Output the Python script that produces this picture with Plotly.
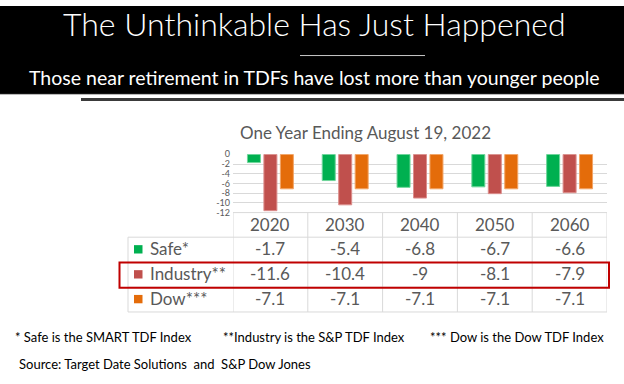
import plotly.graph_objects as go

W, H = 624, 384

# ---- data ----
categories = ["2020", "2030", "2040", "2050", "2060"]
series_names = ["Safe*", "Industry**", "Dow***"]
safe = [-1.7, -5.4, -6.8, -6.7, -6.6]
industry = [-11.6, -10.4, -9, -8.1, -7.9]
dow = [-7.1, -7.1, -7.1, -7.1, -7.1]
y_ticks = [0, -2, -4, -6, -8, -10, -12]

main_title = "The Unthinkable Has Just Happened"
subtitle = "Those near retirement in TDFs have lost more than younger people"
chart_title = "One Year Ending August 19, 2022"
footnotes = ["* Safe is the SMART TDF Index",
             "**Industry is the S&P TDF Index",
             "*** Dow is the Dow TDF Index"]
source = "Source: Target Date Solutions  and  S&P Dow Jones"

# ---- style ----
colors = ["#00B050", "#C0504D", "#E46C0A"]
edge_colors = ["#6FD69B", "#DC8E8C", "#F2A466"]
FONT = "Lato"
TXT = "#595959"
GRID = "#D9D9D9"


def px(x):
    return x / W


def py(y):
    return 1 - y / H


series = [safe, industry, dow]

fig = go.Figure()
for name, vals, c, ec in zip(series_names, series, colors, edge_colors):
    fig.add_trace(go.Bar(x=categories, y=vals, name=name,
                         marker=dict(color=c, line=dict(color=ec, width=1)),
                         hoverinfo="skip"))

plot_left, plot_right = 233, 607
plot_top, plot_bottom = 152.7, 212.7
rows = [212.7, 238, 264, 289.5, 315]
legend_left = 128

shapes = []
annotations = []

# banner
shapes.append(dict(type="rect", xref="paper", yref="paper", x0=0, x1=1,
                   y0=py(90.5), y1=1, fillcolor="black", line=dict(width=0), layer="below"))
shapes.append(dict(type="line", xref="paper", yref="paper", x0=0, x1=1,
                   y0=py(91), y1=py(91), line=dict(color="#B0B0B0", width=1)))
shapes.append(dict(type="line", xref="paper", yref="paper", x0=px(300), x1=px(425),
                   y0=py(51), y1=py(51), line=dict(color="#C8C8C8", width=1)))
shapes.append(dict(type="line", xref="paper", yref="paper", x0=px(81), x1=1,
                   y0=py(96.2), y1=py(96.2), line=dict(color="#3A3A3A", width=3)))

annotations.append(dict(text=main_title, xref="paper", yref="paper", x=px(314.5), y=py(18),
                        xanchor="center", yanchor="middle", showarrow=False,
                        font=dict(family=FONT, size=32, color="white", weight=300)))
annotations.append(dict(text=subtitle, xref="paper", yref="paper", x=px(314), y=py(74),
                        xanchor="center", yanchor="middle", showarrow=False,
                        font=dict(family=FONT, size=19.5, color="white")))
annotations.append(dict(text=chart_title, xref="paper", yref="paper", x=px(365), y=py(130.5),
                        xanchor="center", yanchor="middle", showarrow=False,
                        font=dict(family=FONT, size=17, color=TXT)))

# table grid
for yl in rows[1:]:
    shapes.append(dict(type="line", xref="paper", yref="paper", x0=px(legend_left), x1=px(plot_right),
                       y0=py(yl), y1=py(yl), line=dict(color=GRID, width=1)))
shapes.append(dict(type="line", xref="paper", yref="paper", x0=px(plot_left), x1=px(plot_right),
                   y0=py(rows[0]), y1=py(rows[0]), line=dict(color=GRID, width=1)))
for i in range(len(categories) + 1):
    shapes.append(dict(type="line", xref="x", yref="paper", x0=i - 0.5, x1=i - 0.5,
                       y0=py(rows[0]), y1=py(rows[-1]), line=dict(color=GRID, width=1)))
shapes.append(dict(type="line", xref="paper", yref="paper", x0=px(legend_left), x1=px(legend_left),
                   y0=py(rows[1]), y1=py(rows[-1]), line=dict(color=GRID, width=1)))

# header
hy = (rows[0] + rows[1]) / 2
for i, cat in enumerate(categories):
    annotations.append(dict(text=cat, xref="x", yref="paper", x=i, y=py(hy - 0.5),
                            xanchor="center", yanchor="middle", showarrow=False,
                            font=dict(family=FONT, size=17, color=TXT)))

for r, (name, vals, c) in enumerate(zip(series_names, series, colors)):
    cy = (rows[r + 1] + rows[r + 2]) / 2 - 1
    shapes.append(dict(type="rect", xref="paper", yref="paper", x0=px(134), x1=px(142.5),
                       y0=py(cy + 4.8), y1=py(cy - 3.8), fillcolor=c, line=dict(width=0)))
    annotations.append(dict(text=name, xref="paper", yref="paper", x=px(148), y=py(cy),
                            xanchor="left", yanchor="middle", showarrow=False,
                            font=dict(family=FONT, size=17, color=TXT)))
    for i, v in enumerate(vals):
        annotations.append(dict(text=f"{v:g}", xref="x", yref="paper", x=i, y=py(cy),
                                xanchor="center", yanchor="middle", showarrow=False,
                                font=dict(family=FONT, size=17, color=TXT)))

# red highlight box
shapes.append(dict(type="rect", xref="paper", yref="paper", x0=px(119.5), x1=px(609),
                   y0=py(290), y1=py(264), line=dict(color="#C00000", width=2)))

# footnotes
for xs, t in zip([13, 221, 428], footnotes):
    annotations.append(dict(text=t, xref="paper", yref="paper", x=px(xs), y=py(341),
                            xanchor="left", yanchor="middle", showarrow=False,
                            font=dict(family=FONT, size=13, color="black")))
annotations.append(dict(text=source, xref="paper", yref="paper", x=px(17), y=py(368.5),
                        xanchor="left", yanchor="middle", showarrow=False,
                        font=dict(family=FONT, size=13, color="black")))

fig.update_layout(
    width=W, height=H, margin=dict(l=0, r=0, t=0, b=0),
    paper_bgcolor="white", plot_bgcolor="white",
    barmode="group", bargap=0.34, bargroupgap=0.21,
    showlegend=False,
    shapes=shapes, annotations=annotations,
    xaxis=dict(domain=[px(plot_left), px(plot_right)], range=[-0.5, 4.5],
               showticklabels=False, showgrid=False, zeroline=False, fixedrange=True),
    yaxis=dict(domain=[py(plot_bottom), py(plot_top)], range=[-12, 0],
               tickvals=y_ticks, ticktext=[str(t) for t in y_ticks],
               gridcolor=GRID, gridwidth=1, zeroline=False, showline=False,
               tickfont=dict(family=FONT, size=9, color=TXT), ticks="",
               ticklabelstandoff=2, fixedrange=True),
)

fig.write_html("out.html", config={"displayModeBar": False},
               post_script="document.body.style.margin='0';document.body.style.overflow='hidden';")
